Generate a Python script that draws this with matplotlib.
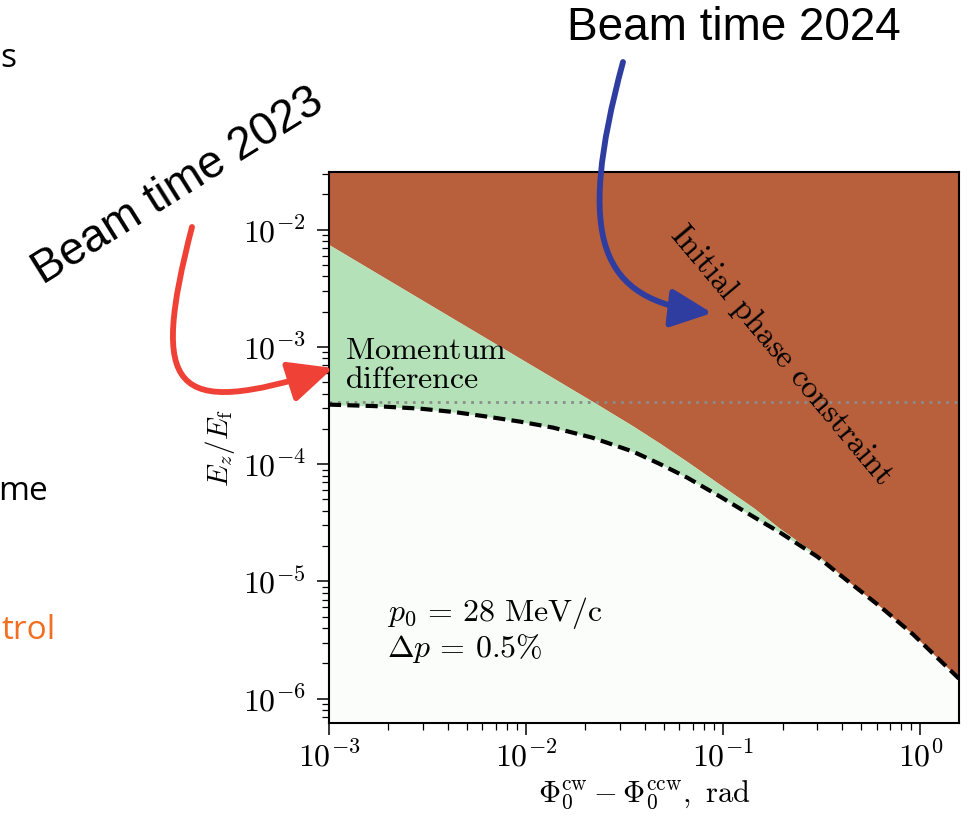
import numpy as np
import matplotlib
matplotlib.use("Agg")
import matplotlib.pyplot as plt
from matplotlib.patches import FancyArrowPatch
from matplotlib.path import Path
from matplotlib.ticker import FuncFormatter, NullFormatter

plt.rcParams['mathtext.fontset'] = 'cm'
plt.rcParams['font.family'] = ['DejaVu Serif']

# phase difference grid (rad)
phi = [1e-3, 1.712e-3, 2.897e-3, 4.361e-3, 6.339e-3, 9.32e-3, 1.371e-2, 2.163e-2, 3.491e-2,
       4.788e-2, 6.567e-2, 9.656e-2, 0.142, 0.1947, 0.300, 0.426, 0.6266, 0.9216, 1.5708]
# momentum-difference limit (dashed curve)
e_momentum = [3.218e-4, 3.125e-4, 2.974e-4, 2.776e-4, 2.542e-4, 2.304e-4, 2.048e-4, 1.683e-4, 1.278e-4,
              1.0e-4, 7.67e-5, 5.28e-5, 3.566e-5, 2.604e-5, 1.626e-5, 1.015e-5, 6.09e-6, 3.514e-6, 1.481e-6]
# lower edge of the initial phase constraint region
e_phase = [7.44e-3, 4.346e-3, 2.568e-3, 1.706e-3, 1.174e-3, 7.98e-4, 5.43e-4, 3.44e-4, 2.11e-4,
           1.5e-4, 1.05e-4, 6.68e-5, 4.26e-5, 2.81e-5, 1.68e-5, 1.015e-5, 6.09e-6, 3.514e-6, 1.481e-6]
e_dotted = 3.41e-4
x_range = [1e-3, np.pi / 2]
y_range = [6.2e-7, 3.1e-2]

W, H = 969, 821
fig = plt.figure(figsize=(W / 100, H / 100), dpi=100)


def px(x, y):
    return (x / W, 1 - y / H)


def pow10(v, pos):
    return r'$10^{%d}$' % int(round(np.log10(v)))


ax = fig.add_axes([329 / W, 1 - 723 / H, 630 / W, 551 / H])
ax.set_xscale('log')
ax.set_yscale('log')
ax.set_xlim(x_range)
ax.set_ylim(y_range)
ax.set_facecolor('#fafdfa')
for a in (ax.xaxis, ax.yaxis):
    a.set_major_formatter(FuncFormatter(pow10))
    a.set_minor_formatter(NullFormatter())

ax.fill_between(phi, e_phase, y_range[1], color='#b8603c', lw=0, zorder=1)
ax.fill_between(phi, e_momentum, e_phase, color='#b5e1b8', lw=0, zorder=1)
ax.axhline(e_dotted, color='#8c8c8c', lw=2, ls=(0, (1, 2)), zorder=2)
line, = ax.plot(phi, e_momentum, color='black', lw=3, zorder=3)
line.set_dashes((2.9, 1.5))

for s in ax.spines.values():
    s.set_linewidth(1.5)
ax.tick_params(which='major', direction='out', length=8.5, width=1.1, labelsize=23, pad=5)
ax.tick_params(which='minor', direction='out', length=5, width=0.9)
ax.tick_params(axis='y', which='major', pad=8)

ax.set_xlabel(r'$\Phi_0^{\rm cw} - \Phi_0^{\rm ccw},\ \mathrm{rad}$', fontsize=22, labelpad=4)
ax.set_ylabel(r'$E_z/E_{\rm f}$', fontsize=21, labelpad=4)

ax.text(0.025, 0.705, '$\\mathrm{Momentum}$\n$\\mathrm{difference}$', transform=ax.transAxes,
        fontsize=23, va='top', ha='left', linespacing=0.95, zorder=4)
ax.text(0.719, 0.668, r'$\mathrm{Initial\ phase\ constraint}$', transform=ax.transAxes,
        fontsize=23.5, rotation=-50, rotation_mode='anchor', ha='center', va='center', zorder=4)
ax.text(0.092, 0.232, '$p_0 \\,=\\, 28\\ \\mathrm{MeV/c}$\n$\\Delta p \\,=\\, 0.5\\%$', transform=ax.transAxes,
        fontsize=23, va='top', ha='left', linespacing=1.05, zorder=4)

# slide annotations
fig.text(*px(734, 28), 'Beam time 2024', fontsize=33, family='Liberation Sans',
         ha='center', va='center')
fig.text(*px(178, 186), 'Beam time 2023', fontsize=33, family='Liberation Sans',
         ha='center', va='center', rotation=32, rotation_mode='anchor')

red_path = Path([px(192, 227), px(150, 390), px(170, 420), px(333, 368)],
                [Path.MOVETO, Path.CURVE4, Path.CURVE4, Path.CURVE4])
fig.patches.append(FancyArrowPatch(path=red_path, arrowstyle='-|>,head_length=0.9,head_width=0.42',
                                   mutation_scale=30, color='#ef4136', lw=4.2,
                                   transform=fig.transFigure, figure=fig))
blue_path = Path([px(623, 62), px(575, 240), px(600, 300), px(712, 313)],
                 [Path.MOVETO, Path.CURVE4, Path.CURVE4, Path.CURVE4])
fig.patches.append(FancyArrowPatch(path=blue_path, arrowstyle='-|>,head_length=0.9,head_width=0.42',
                                   mutation_scale=28, color='#2e3d9f', lw=4.2,
                                   transform=fig.transFigure, figure=fig))

# cut-off slide text on the left
fig.text(*px(0, 67), 's', fontsize=24, family='Open Sans', ha='left', va='baseline')
fig.text(*px(48, 500), 'me', fontsize=24, family='Open Sans', ha='right', va='baseline')
fig.text(*px(56, 639), 'trol', fontsize=24, family='Open Sans', ha='right', va='baseline',
         color='#f26e21')

fig.savefig('out.png', dpi=100)
